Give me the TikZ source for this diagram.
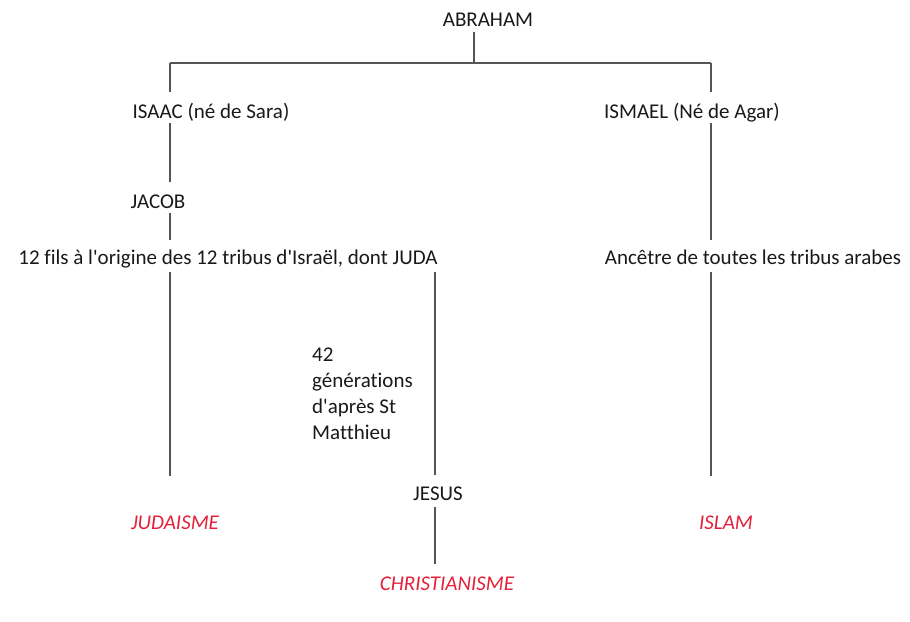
\documentclass[tikz,border=0pt]{standalone}
\usepackage{fontspec}
\setmainfont{Carlito}[Ligatures={NoCommon}]
\usepackage{tikz}
\usetikzlibrary{backgrounds}
\definecolor{linegray}{RGB}{85,85,85}
\definecolor{textgray}{RGB}{25,25,25}
\definecolor{religred}{RGB}{228,32,58}
\tikzstyle{none}=[inner sep=0pt]
\tikzstyle{person}=[inner sep=0pt,anchor=base,text=textgray,font=\fontsize{21}{26}\selectfont]
\tikzstyle{religion}=[inner sep=0pt,anchor=base,text=religred,font=\fontsize{21}{26}\selectfont\itshape]
\tikzstyle{note}=[inner sep=0pt,anchor=north west,align=left,text=textgray,font=\fontsize{21}{26}\selectfont]
\tikzstyle{branch}=[-,draw=linegray,line width=1.2]
\pgfdeclarelayer{edgelayer}
\pgfdeclarelayer{nodelayer}
\pgfsetlayers{edgelayer,nodelayer,main}

\begin{document}
\begin{tikzpicture}[x=1pt,y=-1pt]
	\useasboundingbox (0,0) rectangle (910,621);
	\begin{pgfonlayer}{nodelayer}
		\node [style=person] (abraham) at (488, 27) {ABRAHAM};
		\node [style=person] (isaac) at (211, 118) {ISAAC (né de Sara)};
		\node [style=person] (ismael) at (692, 118) {ISMAEL (Né de Agar)};
		\node [style=person] (jacob) at (158, 208) {JACOB};
		\node [style=person] (fils) at (228, 264) {12 fils à l\textquotesingle origine des 12 tribus d\textquotesingle Israël, dont JUDA};
		\node [style=person] (ancetre) at (753, 264) {Ancêtre de toutes les tribus arabes};
		\node [style=note] (gen) at (312, 348) {42\\générations\\d\textquotesingle après St\\Matthieu};
		\node [style=person] (jesus) at (438, 500) {JESUS};

		\node [style=religion] (judaisme) at (175, 529) {JUDAISME};
		\node [style=religion] (islam) at (726, 529) {ISLAM};
		\node [style=religion] (christ) at (447, 590) {CHRISTIANISME};

		\node [style=none] (Atop) at (474, 32) {};
		\node [style=none] (Amid) at (474, 63) {};
		\node [style=none] (Tl) at (170, 63) {};
		\node [style=none] (Tr) at (711, 63) {};

		\node [style=none] (i1) at (170, 92) {};
		\node [style=none] (i2) at (170, 123) {};
		\node [style=none] (j1) at (170, 182) {};
		\node [style=none] (j2) at (170, 213) {};
		\node [style=none] (f1) at (170, 240) {};
		\node [style=none] (f2) at (170, 272) {};
		\node [style=none] (f3) at (170, 476) {};

		\node [style=none] (m1) at (711, 92) {};
		\node [style=none] (m2) at (711, 123) {};
		\node [style=none] (m3) at (711, 240) {};
		\node [style=none] (a1) at (711, 272) {};
		\node [style=none] (a2) at (711, 476) {};

		\node [style=none] (c1) at (435, 272) {};
		\node [style=none] (c2) at (435, 475) {};
		\node [style=none] (c3) at (435, 507) {};
		\node [style=none] (c4) at (435, 564) {};
	\end{pgfonlayer}
	\begin{pgfonlayer}{edgelayer}
		\draw [style=branch] (Atop.center) to (Amid.center);
		\draw [style=branch] (Tl.center) to (Tr.center);
		\draw [style=branch] (Tl.center) to (i1.center);
		\draw [style=branch] (i2.center) to (j1.center);
		\draw [style=branch] (j2.center) to (f1.center);
		\draw [style=branch] (f2.center) to (f3.center);
		\draw [style=branch] (Tr.center) to (m1.center);
		\draw [style=branch] (m2.center) to (m3.center);
		\draw [style=branch] (a1.center) to (a2.center);
		\draw [style=branch] (c1.center) to (c2.center);
		\draw [style=branch] (c3.center) to (c4.center);
	\end{pgfonlayer}
\end{tikzpicture}
\end{document}
